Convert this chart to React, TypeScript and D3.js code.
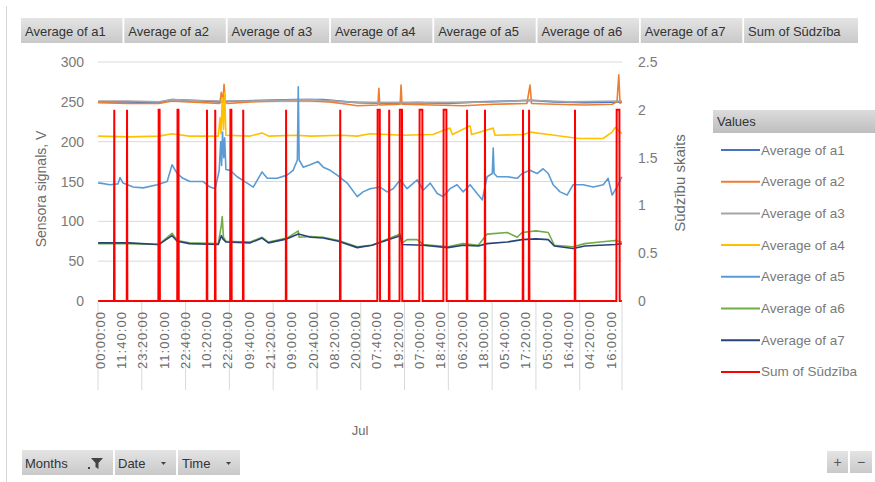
import React from 'react';
import * as d3 from 'd3';

// ---------- DATA ----------
const seriesNames = [
  'Average of a1', 'Average of a2', 'Average of a3', 'Average of a4',
  'Average of a5', 'Average of a6', 'Average of a7', 'Sum of Sūdzība',
];
const seriesColors = ['#4472C4', '#ED7D31', '#A5A5A5', '#FFC000', '#5B9BD5', '#70AD47', '#264478', '#FF0000'];

const timeLabels = [
  '00:00:00', '11:40:00', '23:20:00', '11:00:00', '22:40:00', '10:20:00', '22:00:00',
  '09:40:00', '21:20:00', '09:00:00', '20:40:00', '08:20:00', '20:00:00', '07:40:00',
  '19:20:00', '07:00:00', '18:40:00', '06:20:00', '18:00:00', '05:40:00', '17:20:00',
  '05:00:00', '16:40:00', '04:20:00', '16:00:00',
];
const labelStep = 70; // categories between time labels (10-minute points)
const totalPoints = 1723;
const pointsPerDay = 144;
const monthLabel = 'Jul';

const leftTicks = [0, 50, 100, 150, 200, 250, 300];
const rightTicks = [0, 0.5, 1, 1.5, 2, 2.5];
const leftTitle = 'Sensora signals, V';
const rightTitle = 'Sūdzību skaits';

// [category index, value]
const a1: [number, number][] = [
  [0, 250], [100, 250], [200, 249], [243, 253], [300, 252], [400, 250], [450, 251], [550, 252],
  [650, 253], [740, 253], [820, 250], [852, 249], [950, 248], [1050, 249], [1150, 248], [1250, 250],
  [1350, 251], [1420, 252], [1500, 250], [1600, 249], [1722, 250],
];
const a2: [number, number][] = [
  [0, 249], [100, 248], [200, 248], [243, 251], [300, 250], [400, 248], [405, 262], [410, 250],
  [414, 272], [418, 250], [425, 248], [500, 250], [600, 251], [700, 251], [760, 250], [819, 247],
  [852, 245], [920, 246], [923, 267], [926, 246], [993, 247], [996, 271], [999, 247], [1100, 246],
  [1200, 245], [1300, 247], [1410, 248], [1420, 271], [1425, 248], [1500, 247], [1600, 246],
  [1690, 247], [1706, 250], [1712, 284], [1716, 248], [1722, 250],
];
const a3: [number, number][] = [
  [0, 251], [100, 251], [200, 250], [243, 253], [300, 252], [400, 251], [500, 251], [600, 252],
  [700, 253], [820, 250], [900, 249], [1000, 249], [1150, 249], [1300, 250], [1420, 252],
  [1550, 250], [1722, 251],
];
const a4: [number, number][] = [
  [0, 207], [100, 206], [200, 207], [243, 210], [260, 209], [300, 207], [395, 207], [401, 230],
  [404, 210], [408, 255], [412, 215], [416, 262], [420, 208], [500, 207], [539, 211], [560, 207],
  [650, 208], [700, 207], [800, 208], [852, 207], [894, 210], [950, 209], [1000, 208], [1100, 209],
  [1157, 217], [1165, 209], [1223, 220], [1228, 209], [1299, 217], [1305, 208], [1400, 209],
  [1420, 212], [1500, 208], [1580, 204], [1660, 204], [1690, 212], [1700, 218], [1722, 210],
];
const a5: [number, number][] = [
  [0, 148], [7, 148], [39, 146], [65, 147], [72, 155], [82, 148], [115, 143], [148, 142], [194, 146],
  [227, 150], [243, 171], [260, 160], [279, 154], [302, 150], [345, 150], [368, 143], [385, 141],
  [398, 164], [403, 200], [406, 170], [409, 212], [413, 180], [416, 205], [420, 165], [434, 164],
  [457, 156], [490, 148], [510, 143], [539, 162], [556, 154], [589, 154], [621, 158], [641, 164],
  [655, 177], [658, 269], [661, 177], [674, 168], [697, 171], [723, 175], [740, 168], [763, 164],
  [786, 158], [819, 148], [852, 131], [871, 137], [894, 141], [927, 143], [950, 137], [970, 141],
  [993, 152], [1016, 141], [1049, 152], [1069, 139], [1092, 148], [1115, 135], [1134, 131],
  [1157, 141], [1180, 146], [1200, 137], [1223, 146], [1246, 135], [1263, 127], [1279, 156],
  [1296, 160], [1299, 192], [1302, 160], [1312, 156], [1345, 156], [1378, 154], [1394, 160],
  [1420, 164], [1443, 160], [1463, 166], [1480, 160], [1496, 146], [1519, 137], [1542, 133],
  [1562, 146], [1595, 146], [1628, 143], [1661, 146], [1677, 154], [1690, 133], [1706, 143],
  [1722, 156],
];
const a6: [number, number][] = [
  [0, 72], [100, 72], [200, 71], [243, 85], [260, 76], [300, 73], [395, 72], [405, 95], [408, 106],
  [412, 80], [420, 75], [500, 74], [539, 80], [560, 74], [621, 79], [658, 88], [661, 80], [700, 81],
  [740, 80], [790, 76], [852, 68], [900, 70], [993, 84], [1000, 73], [1016, 77], [1049, 77],
  [1069, 71], [1150, 68], [1200, 72], [1250, 70], [1279, 84], [1345, 86], [1378, 80], [1394, 86],
  [1440, 88], [1480, 86], [1500, 70], [1562, 68], [1600, 72], [1650, 74], [1700, 76], [1722, 74],
];
const a7: [number, number][] = [
  [0, 73], [100, 73], [200, 71], [243, 82], [260, 75], [300, 72], [395, 71], [405, 82], [410, 78],
  [420, 74], [500, 73], [539, 79], [560, 73], [621, 78], [658, 84], [700, 80], [740, 79], [790, 75],
  [852, 67], [900, 70], [993, 82], [1000, 71], [1069, 70], [1150, 67], [1200, 70], [1250, 69],
  [1279, 72], [1345, 74], [1394, 77], [1440, 78], [1480, 77], [1500, 69], [1562, 66], [1600, 69],
  [1650, 70], [1700, 71], [1722, 72],
];
// complaints (secondary axis): start category and number of consecutive points at value 2
const complaintStart = [53, 95, 199, 261, 358, 385, 435, 477, 618, 796, 919, 957, 992, 1057, 1136, 1213, 1272, 1397, 1417, 1568, 1705];
const complaintLen = [1, 1, 4, 4, 1, 1, 4, 1, 1, 1, 8, 1, 8, 10, 10, 1, 1, 1, 1, 1, 10];
const complaintValue = 2;

const bottomButtons = ['Months', 'Date', 'Time'];

// ---------- LAYOUT ----------
const W = 875, H = 482;
const L = 98, R = 622, T = 62, B = 301;
const font = '"Liberation Sans", Arial, sans-serif';

export default function App() {
  const x = d3.scaleLinear().domain([0, totalPoints]).range([L, R]);
  const yL = d3.scaleLinear().domain([0, 300]).range([B, T]);
  const yR = d3.scaleLinear().domain([0, 2.5]).range([B, T]);

  const lineL = d3.line<[number, number]>().x(d => x(d[0] + 0.5)).y(d => yL(d[1]));
  const lineR = d3.line<[number, number]>().x(d => x(d[0] + 0.5)).y(d => yR(d[1]));

  const mainSeries = [a1, a2, a3, a4, a5, a6, a7];

  const complaints: [number, number][] = d3.range(totalPoints).map(i => [i, 0]);
  complaintStart.forEach((s, k) => {
    for (let j = 0; j < complaintLen[k]; j++) if (s + j < totalPoints) complaints[s + j][1] = complaintValue;
  });

  const dayBounds = d3.range(0, totalPoints, pointsPerDay).concat([totalPoints]);

  const btnX = (i: number) => 21 + i * 103.3;

  return (
    <div style={{ position: 'absolute', left: 0, top: 0 }}>
      <svg width={W} height={H} style={{ display: 'block', background: '#fff' }} fontFamily={font}>
        <defs>
          <linearGradient id="btn" x1="0" y1="0" x2="0" y2="1">
            <stop offset="0" stopColor="#e4e4e4" />
            <stop offset="1" stopColor="#c9c9c9" />
          </linearGradient>
          <linearGradient id="hdr" x1="0" y1="0" x2="0" y2="1">
            <stop offset="0" stopColor="#dcdcdc" />
            <stop offset="1" stopColor="#bebebe" />
          </linearGradient>
        </defs>

        {/* frame */}
        <line x1={6.5} y1={6} x2={6.5} y2={H} stroke="#d6d6d6" />

        {/* top field buttons */}
        {seriesNames.map((n, i) => {
          const x0 = btnX(i);
          const w = i === 7 ? 858 - x0 : 101.5;
          return (
            <g key={n}>
              <rect x={x0} y={18} width={w} height={25} fill="url(#btn)" />
              <text x={x0 + 4} y={31} dominantBaseline="central" fontSize={13} fill="#333">{n}</text>
            </g>
          );
        })}

        {/* gridlines */}
        {leftTicks.slice(1).map(t => (
          <line key={t} x1={L} x2={R} y1={yL(t)} y2={yL(t)} stroke="#d9d9d9" strokeWidth={1} />
        ))}

        {/* left axis labels */}
        {leftTicks.map(t => (
          <text key={t} x={84} y={yL(t)} textAnchor="end" dominantBaseline="central" fontSize={14} fill="#7a7a7a">{t}</text>
        ))}
        {/* right axis labels */}
        {rightTicks.map(t => (
          <text key={t} x={638} y={yR(t)} dominantBaseline="central" fontSize={14} fill="#7a7a7a">{t}</text>
        ))}

        {/* axis titles */}
        <text transform={`translate(41,189) rotate(-90)`} textAnchor="middle" dominantBaseline="central" fontSize={14} fill="#6b6b6b">{leftTitle}</text>
        <text transform={`translate(679,183) rotate(-90)`} textAnchor="middle" dominantBaseline="central" fontSize={15} fill="#6b6b6b">{rightTitle}</text>

        {/* category separators */}
        {dayBounds.map(d => (
          <line key={d} x1={x(d)} x2={x(d)} y1={B} y2={390} stroke="#d9d9d9" />
        ))}

        {/* time labels */}
        {timeLabels.map((lab, i) => (
          <text key={i} transform={`translate(${x(i * labelStep + 0.5) + 2},312) rotate(-90)`} textAnchor="end"
            dominantBaseline="central" fontSize={13} textLength={57} lengthAdjust="spacing" fill="#6b6b6b">{lab}</text>
        ))}
        <text x={x(totalPoints / 2)} y={430} textAnchor="middle" dominantBaseline="central" fontSize={13} fill="#6b6b6b">{monthLabel}</text>

        {/* series */}
        {mainSeries.map((s, i) => (
          <path key={i} d={lineL(s) || ''} fill="none" stroke={seriesColors[i]} strokeWidth={1.6} strokeLinejoin="round" />
        ))}
        <path d={lineR(complaints) || ''} fill="none" stroke={seriesColors[7]} strokeWidth={2} strokeLinejoin="miter" />

        {/* legend */}
        <rect x={713} y={110} width={162} height={23} fill="url(#hdr)" />
        <text x={717} y={121.5} dominantBaseline="central" fontSize={13} fill="#333">Values</text>
        {seriesNames.map((n, i) => {
          const yy = 150 + i * 31.7;
          return (
            <g key={n}>
              <line x1={721} x2={760} y1={yy} y2={yy} stroke={seriesColors[i]} strokeWidth={2} />
              <text x={761} y={yy} dominantBaseline="central" fontSize={13.5} fill="#7a7a7a">{n}</text>
            </g>
          );
        })}

        {/* bottom field buttons */}
        <rect x={22} y={450} width={91} height={25} fill="url(#btn)" />
        <rect x={115} y={450} width={61} height={25} fill="url(#btn)" />
        <rect x={178} y={450} width={62} height={25} fill="url(#btn)" />
        <text x={25} y={463} dominantBaseline="central" fontSize={13} fill="#333">{bottomButtons[0]}</text>
        <path d="M91,458 h12 l-4.5,5 v6 l-3,-2 v-4 z" fill="#444" />
        <rect x={88} y={467} width={2} height={2} fill="#444" />
        <text x={118} y={463} dominantBaseline="central" fontSize={13} fill="#333">{bottomButtons[1]}</text>
        <path d="M161,462 h5 l-2.5,3 z" fill="#444" />
        <text x={182} y={463} dominantBaseline="central" fontSize={13} fill="#333">{bottomButtons[2]}</text>
        <path d="M226,462 h5 l-2.5,3 z" fill="#444" />

        {/* +/- buttons */}
        <rect x={827} y={451} width={21} height={22} fill="url(#btn)" />
        <rect x={850} y={451} width={22} height={22} fill="url(#btn)" />
        <text x={837.5} y={462} textAnchor="middle" dominantBaseline="central" fontSize={14} fill="#555">+</text>
        <text x={861} y={462} textAnchor="middle" dominantBaseline="central" fontSize={14} fill="#555">−</text>
      </svg>
    </div>
  );
}
